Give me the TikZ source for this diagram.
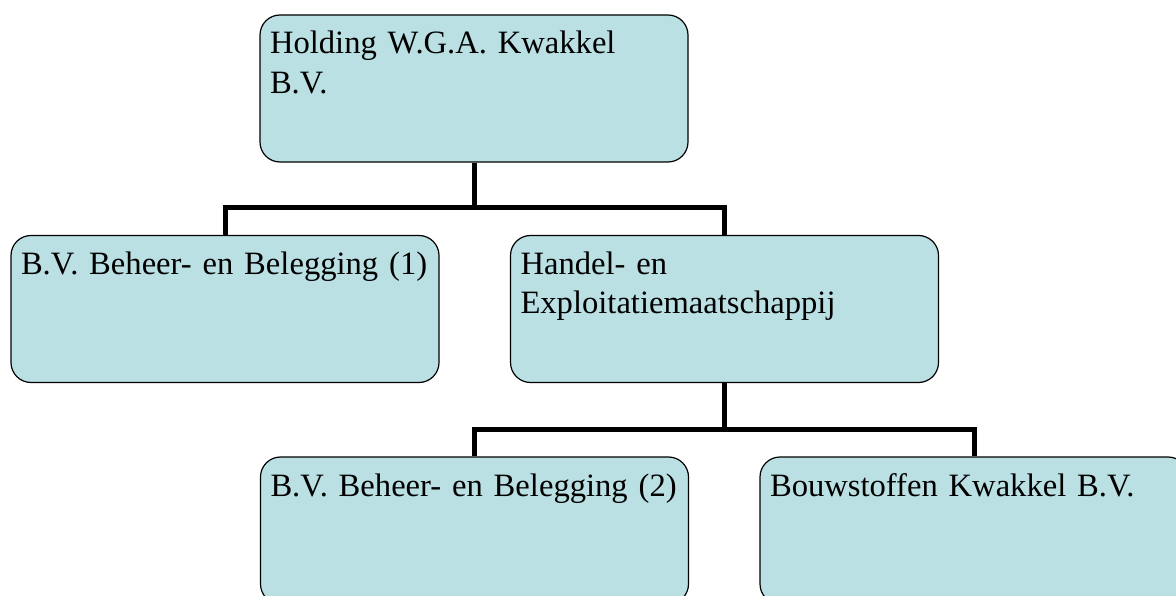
\documentclass[tikz,border=0pt]{standalone}
\usepackage{fontspec}
\setmainfont{Liberation Serif}
\definecolor{boxblue}{RGB}{186,224,227}
\tikzset{
    orgbox/.style={draw=black, line width=1.2pt, fill=boxblue, rounded corners=20pt,
        text width=408pt, align=left, inner xsep=10pt, inner ysep=17pt,
        text height=22pt, text depth=91pt,
        font=\fontsize{32.6}{39.5}\selectfont\frenchspacing},
    tree/.style={line width=5pt, line join=miter}
}
\begin{document}
\begin{tikzpicture}[x=1pt,y=-1pt]
    \useasboundingbox (0,0) rectangle (1176,596);
    \clip (0,0) rectangle (1176,596);
    \node[orgbox] (holding) at (474,88.5) {Holding W.G.A. Kwakkel\\B.V.};
    \node[orgbox] (beheer1) at (225,309) {B.V. Beheer- en Belegging (1)};
    \node[orgbox] (handel) at (724.5,309) {Handel- en\\Exploitatiemaatschappij};
    \node[orgbox] (beheer2) at (474.5,530.5) {B.V. Beheer- en Belegging (2)};
    \node[orgbox] (bouw) at (974,530.5) {Bouwstoffen Kwakkel B.V.};
    % connectors
    \draw[tree] (holding.south) -- ++(0,45) coordinate (split1);
    \draw[tree] (beheer1.north) |- (split1) -| (handel.north);
    \draw[tree] (handel.south) -- ++(0,46) coordinate (split2);
    \draw[tree] (beheer2.north) |- (split2) -| (bouw.north);
\end{tikzpicture}
\end{document}
